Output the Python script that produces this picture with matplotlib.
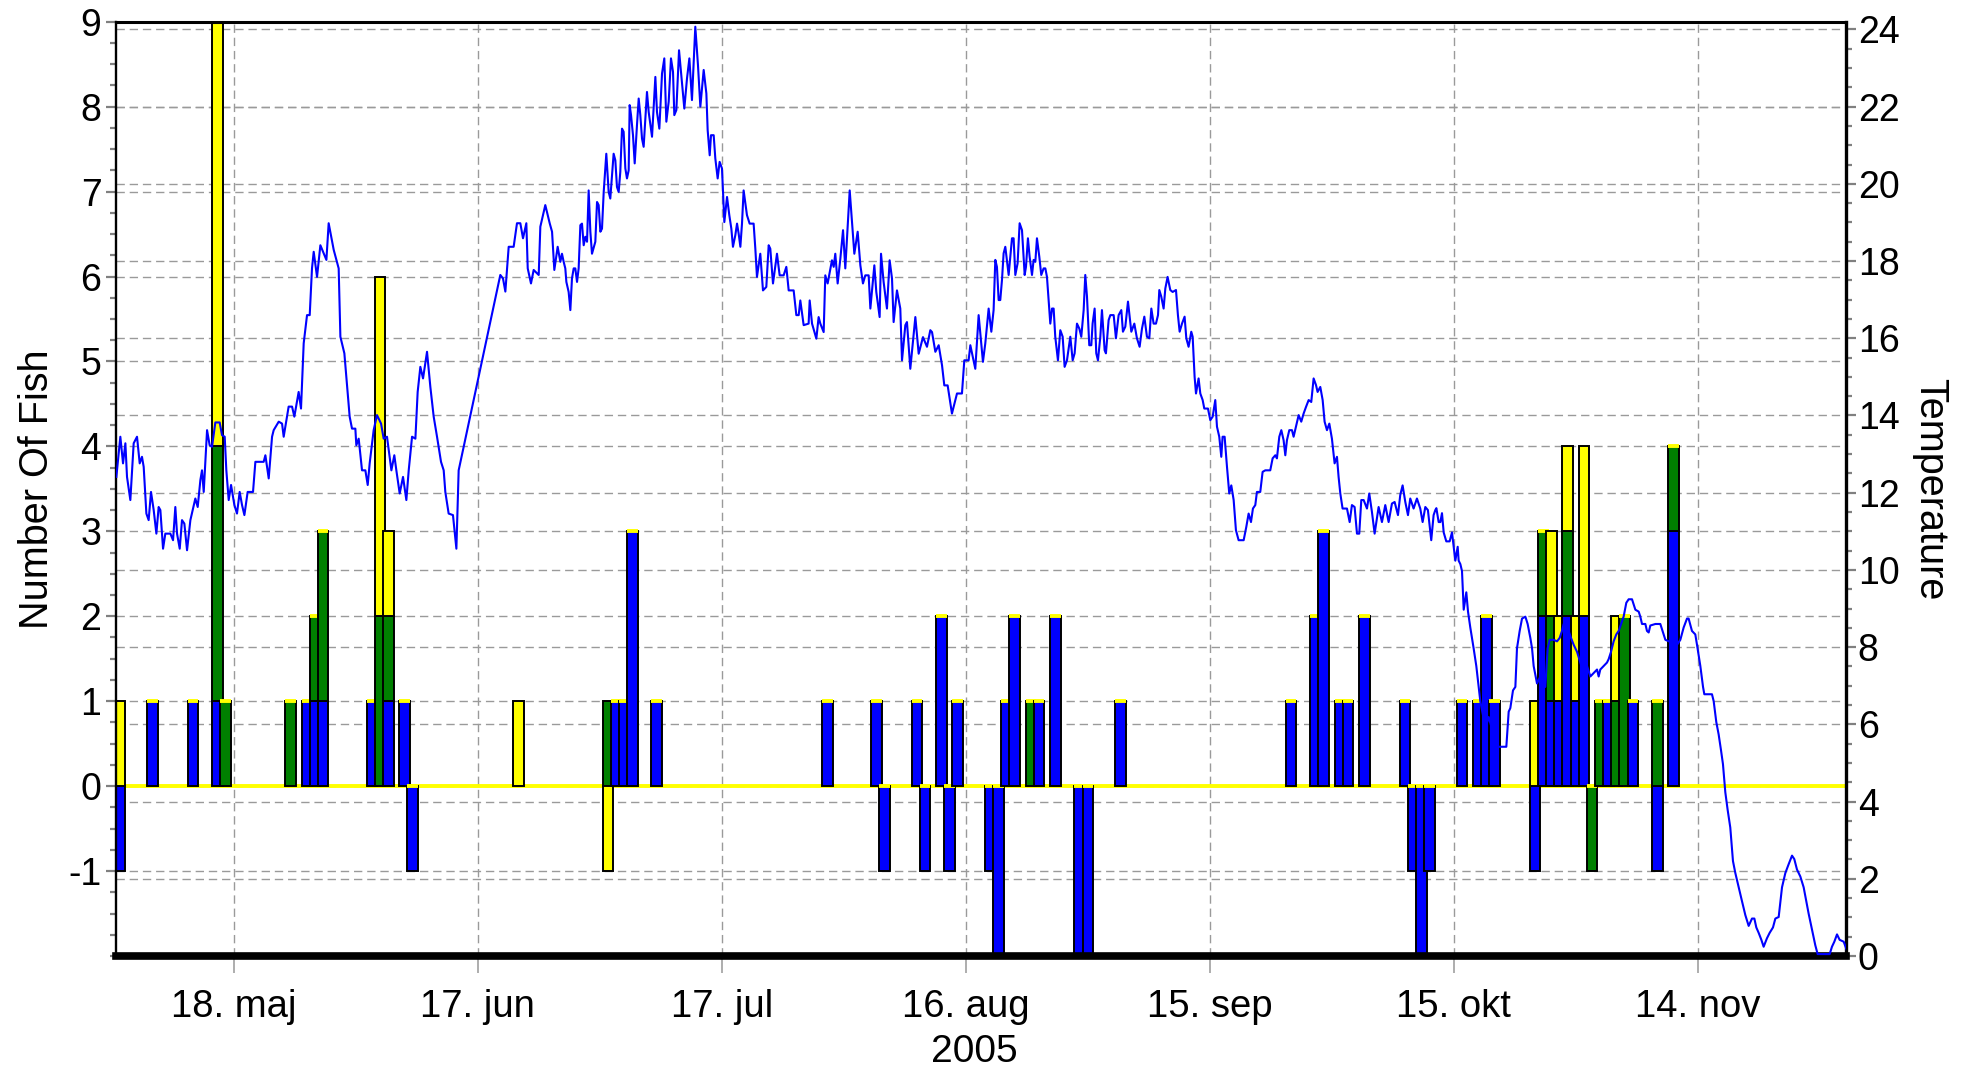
import datetime as dt
import matplotlib
matplotlib.use("Agg")
import matplotlib.pyplot as plt
import matplotlib.dates as mdates
from matplotlib.ticker import MultipleLocator

plt.rcParams['font.family'] = ['Liberation Sans', 'DejaVu Sans']
plt.rcParams['axes.unicode_minus'] = False

# all day offsets below count from 18 May 2005
start = dt.datetime(2005, 5, 18)

# fish per day, split by colour; a negative count is drawn below the zero line
bar_day = [-14, -10, -5, -2, -1, 7, 9, 10, 11, 17, 18, 19, 21, 22, 35,
           46, 47, 48, 49, 52, 73, 79, 80, 84, 85, 87, 88, 89,
           93, 94, 95, 96, 98, 99, 101, 104, 105, 109,
           130, 133, 134, 136, 137, 139, 144, 145, 146, 147,
           151, 153, 154, 155, 160, 161, 162, 163, 164, 165, 166,
           167, 168, 169, 170, 171, 172, 175, 177]
blue = [-1, 1, 1, 1, 0, 0, 1, 1, 1, 1, 0, 1, 1, -1, 0,
        0, 1, 1, 3, 1, 1, 1, -1, 1, -1, 2, -1, 1,
        -1, -2, 1, 2, 0, 1, 2, -2, -2, 1,
        1, 2, 3, 1, 1, 2, 1, -1, -2, -1,
        1, 1, 2, 1, -1, 2, 1, 1, 2, 1, 2,
        0, 0, 1, 0, 0, 1, -1, 3]
green = [0, 0, 0, 3, 1, 1, 0, 1, 2, 0, 2, 1, 0, 0, 0,
         1, 0, 0, 0, 0, 0, 0, 0, 0, 0, 0, 0, 0,
         0, 0, 0, 0, 1, 0, 0, 0, 0, 0,
         0, 0, 0, 0, 0, 0, 0, 0, 0, 0,
         0, 0, 0, 0, 0, 1, 1, 0, 1, 0, 0,
         -1, 1, 0, 1, 2, 0, 1, 1]
yellow = [1, 0, 0, 5, 0, 0, 0, 0, 0, 0, 4, 1, 0, 0, 1,
          -1, 0, 0, 0, 0, 0, 0, 0, 0, 0, 0, 0, 0,
          0, 0, 0, 0, 0, 0, 0, 0, 0, 0,
          0, 0, 0, 0, 0, 0, 0, 0, 0, 0,
          0, 0, 0, 0, 1, 0, 1, 1, 1, 1, 2,
          0, 0, 0, 1, 0, 0, 0, 0]

# water temperature
temp_day = [
    -14.42, -13.93, -13.60, -13.31, -13.11, -12.70, -12.29, -11.88, -11.55, -11.27,
    -11.06, -10.73, -10.45, -10.16, -9.83, -9.50, -9.22, -9.01, -8.68, -8.40,
    -7.78, -7.45, -7.17, -6.96, -6.63, -6.35, -6.06, -5.73, -5.32, -4.71,
    -4.42, -4.09, -3.89, -3.68, -3.27, -2.95, -2.66, -2.25, -1.72, -1.43,
    -1.10, -0.90, -0.61, -0.32, 0.09, 0.41, 0.74, 1.03, 1.32, 1.72,
    2.38, 2.67, 3.69, 3.90, 4.31, 4.72, 4.92, 5.54, 5.95, 6.15,
    6.76, 7.18, 7.46, 7.99, 8.28, 8.61, 9.02, 9.35, 9.63, 9.84,
    10.25, 10.66, 11.07, 11.40, 11.68, 12.30, 12.91, 13.12, 13.61, 14.02,
    14.26, 14.55, 14.96, 15.08, 15.37, 15.78, 16.19, 16.48, 16.72, 17.21,
    17.62, 18.12, 18.44, 18.85, 19.39, 19.75, 20.00, 20.41, 20.82, 21.23,
    21.52, 21.93, 22.34, 22.62, 22.95, 23.28, 23.77, 24.18, 24.59, 25.00,
    25.49, 25.82, 26.02, 26.43, 26.96, 27.38, 27.66, 32.78, 33.11, 33.40,
    33.81, 34.42, 34.83, 35.24, 35.57, 35.98, 36.15, 36.55, 36.88, 37.50,
    37.70, 38.31, 38.85, 39.14, 39.42, 39.83, 40.16, 40.36, 40.57, 40.77,
    40.90, 41.18, 41.39, 41.59, 41.80, 42.00, 42.21, 42.41, 42.62, 42.82,
    43.03, 43.23, 43.44, 43.64, 43.85, 44.05, 44.46, 44.67, 44.87, 45.08,
    45.28, 45.49, 45.81, 46.10, 46.30, 46.51, 46.71, 46.92, 47.12, 47.33,
    47.53, 47.74, 47.94, 48.15, 48.35, 48.56, 48.68, 48.85, 49.09, 49.30,
    49.58, 49.79, 49.99, 50.20, 50.40, 50.81, 51.02, 51.43, 51.84, 52.04,
    52.33, 52.66, 52.94, 53.19, 53.48, 53.76, 54.01, 54.17, 54.42, 54.75,
    55.11, 55.40, 55.73, 56.02, 56.34, 56.75, 57.08, 57.37, 57.78, 58.11,
    58.27, 58.52, 58.68, 59.01, 59.21, 59.50, 59.74, 60.03, 60.24, 60.32,
    60.65, 60.93, 61.18, 61.38, 61.67, 61.88, 62.08, 62.29, 62.49, 62.69,
    63.10, 63.43, 63.92, 64.13, 64.33, 64.74, 65.07, 65.48, 65.77, 65.97,
    66.30, 66.79, 67.12, 67.61, 67.94, 68.23, 68.84, 69.17, 69.46, 69.66,
    70.07, 70.68, 70.81, 71.10, 71.63, 71.91, 72.12, 72.53, 72.73, 73.02,
    73.55, 73.76, 73.96, 74.25, 74.58, 74.91, 75.19, 75.73, 76.01, 76.30,
    76.71, 77.04, 77.36, 77.65, 78.06, 78.27, 78.76, 79.00, 79.41, 79.58,
    79.90, 80.31, 80.64, 80.93, 81.13, 81.54, 81.95, 82.16, 82.57, 82.77,
    83.18, 83.80, 84.21, 84.74, 85.23, 85.64, 85.85, 86.26, 86.67, 87.08,
    87.36, 87.77, 88.30, 88.92, 89.53, 89.82, 90.35, 90.56, 91.17, 91.58,
    92.11, 92.40, 92.81, 93.14, 93.42, 93.63, 93.83, 94.04, 94.24, 94.45,
    94.65, 94.86, 95.27, 95.68, 95.88, 96.09, 96.37, 96.62, 96.91, 97.24,
    97.40, 97.64, 97.85, 98.14, 98.34, 98.55, 98.75, 99.04, 99.28, 99.57,
    99.78, 99.98, 100.39, 100.60, 100.80, 101.00, 101.33, 101.62, 101.91, 102.15,
    102.44, 102.85, 103.14, 103.38, 103.67, 103.96, 104.20, 104.49, 104.69, 104.90,
    105.18, 105.43, 105.59, 105.84, 106.04, 106.25, 106.54, 106.74, 107.07, 107.23,
    107.56, 107.77, 108.18, 108.46, 108.79, 109.12, 109.32, 109.61, 109.94, 110.35,
    110.72, 111.04, 111.37, 111.66, 111.95, 112.27, 112.56, 112.81, 113.09, 113.38,
    113.63, 113.79, 114.03, 114.32, 114.53, 114.81, 115.14, 115.43, 115.84, 116.08,
    116.29, 116.58, 116.90, 117.11, 117.39, 117.72, 117.89, 118.13, 118.30, 118.62,
    118.83, 119.12, 119.32, 119.77, 120.06, 120.35, 120.67, 120.88, 121.16, 121.41,
    121.57, 121.82, 122.11, 122.39, 122.64, 122.93, 123.21, 123.54, 124.16, 124.48,
    124.77, 125.06, 125.30, 125.59, 125.79, 126.20, 126.49, 126.82, 127.43, 127.72,
    128.05, 128.25, 128.54, 128.79, 129.07, 129.28, 129.48, 129.77, 130.10, 130.30,
    130.59, 130.92, 131.24, 131.53, 131.82, 132.15, 132.47, 132.76, 133.05, 133.25,
    133.58, 133.87, 134.11, 134.40, 134.69, 135.01, 135.34, 135.63, 135.83, 136.04,
    136.32, 136.86, 137.19, 137.47, 137.80, 138.09, 138.37, 138.62, 138.91, 139.32,
    139.60, 139.93, 140.26, 140.75, 141.16, 141.57, 141.98, 142.39, 142.72, 143.13,
    143.41, 143.70, 144.03, 144.36, 144.64, 145.05, 145.46, 145.87, 146.16, 146.49,
    146.81, 147.22, 147.51, 147.72, 147.85, 148.13, 148.34, 148.54, 148.75, 149.07,
    149.48, 149.77, 149.98, 150.18, 150.47, 150.59, 150.80, 151.00, 151.21, 151.53,
    151.74, 152.02, 152.23, 152.43, 152.76, 153.05, 153.25, 153.66, 153.99, 154.28,
    154.69, 155.10, 155.51, 156.45, 156.74, 156.94, 157.27, 157.56, 157.76, 158.09,
    158.38, 158.79, 159.07, 159.40, 159.61, 159.81, 160.22, 160.63, 160.96, 161.24,
    161.53, 161.78, 162.27, 162.68, 163.01, 163.29, 163.50, 163.70, 164.11, 164.40,
    164.73, 165.14, 165.55, 165.96, 166.37, 166.78, 167.19, 167.60, 167.80, 168.00,
    168.41, 168.82, 169.03, 169.32, 169.64, 169.97, 170.26, 170.55, 170.87, 171.20,
    171.49, 171.90, 172.31, 172.72, 172.92, 173.13, 173.54, 173.74, 173.95, 174.15,
    174.77, 175.38, 175.58, 176.00, 177.43, 177.84, 178.25, 178.66, 178.86, 179.27,
    179.68, 179.89, 180.30, 180.63, 180.79, 181.73, 181.94, 182.26, 182.55, 182.84,
    183.08, 183.37, 183.66, 183.98, 184.31, 184.60, 185.01, 185.42, 185.83, 186.24,
    186.65, 186.94, 187.18, 187.47, 187.80, 188.08, 188.49, 188.82, 189.23, 189.52,
    189.93, 190.34, 190.75, 191.16, 191.57, 191.85, 192.18, 192.59, 193.00, 193.33,
    193.61, 194.02, 194.43, 194.72, 196.20, 196.48, 196.77, 197.10, 197.42, 197.92,
    198.33]
temp_c = [
    12.41, 13.45, 12.76, 13.28, 12.41, 11.81, 13.28, 13.45, 12.76, 12.93,
    12.67, 11.46, 11.29, 12.02, 11.55, 10.94, 11.63, 11.55, 10.55, 10.94,
    10.94, 10.77, 11.63, 10.94, 10.55, 11.29, 11.20, 10.51, 11.29, 11.85,
    11.63, 12.33, 12.58, 12.02, 13.62, 13.23, 13.19, 13.82, 13.82, 13.49,
    13.45, 12.58, 11.81, 12.20, 11.68, 11.46, 12.02, 11.68, 11.42, 12.02,
    12.02, 12.80, 12.80, 12.97, 12.37, 13.45, 13.62, 13.84, 13.79, 13.45,
    14.23, 14.23, 13.97, 14.61, 14.18, 15.87, 16.60, 16.60, 17.81, 18.24,
    17.59, 18.41, 18.20, 18.03, 18.98, 18.29, 17.81, 16.04, 15.61, 14.57,
    13.97, 13.66, 13.66, 13.23, 13.40, 12.58, 12.58, 12.20, 12.76, 13.62,
    14.01, 13.79, 13.40, 13.45, 12.58, 12.97, 12.58, 11.98, 12.41, 11.81,
    12.58, 13.45, 13.40, 14.61, 15.26, 14.96, 15.65, 14.74, 13.97, 13.45,
    12.80, 12.58, 12.02, 11.46, 11.42, 10.55, 12.58, 17.64, 17.55, 17.21,
    18.37, 18.37, 18.98, 18.98, 18.59, 18.98, 17.81, 17.42, 17.77, 17.64,
    18.89, 19.45, 18.98, 18.76, 17.77, 18.37, 17.98, 18.19, 17.98, 17.81,
    17.46, 17.20, 16.73, 17.55, 17.81, 17.81, 17.46, 17.81, 18.93, 18.97,
    18.41, 18.63, 18.50, 19.83, 18.76, 18.19, 18.50, 19.53, 19.45, 18.76,
    18.84, 19.79, 20.78, 19.79, 19.62, 20.22, 20.78, 20.61, 19.92, 19.79,
    20.31, 21.43, 21.35, 20.40, 20.14, 20.35, 22.04, 21.78, 21.26, 20.53,
    21.52, 22.21, 21.78, 21.17, 20.96, 22.38, 21.86, 21.22, 22.77, 21.86,
    21.43, 22.86, 23.25, 21.61, 22.13, 23.25, 22.90, 21.78, 21.91, 23.46,
    22.64, 21.95, 22.73, 23.25, 22.17, 24.07, 23.07, 22.00, 22.95, 22.34,
    21.39, 20.74, 21.26, 21.26, 20.66, 20.14, 20.57, 20.40, 19.36, 19.01,
    19.66, 19.19, 18.84, 18.37, 18.67, 18.97, 18.71, 18.37, 18.97, 19.83,
    19.19, 18.97, 18.97, 18.32, 17.59, 18.19, 17.24, 17.33, 18.41, 18.32,
    17.42, 18.19, 17.63, 17.63, 17.85, 17.24, 17.24, 16.60, 16.60, 16.98,
    16.34, 16.38, 16.98, 16.38, 15.99, 16.55, 16.38, 16.16, 17.63, 17.42,
    18.02, 17.85, 18.19, 17.42, 18.06, 18.80, 17.81, 19.83, 19.01, 18.19,
    18.76, 17.89, 17.42, 17.63, 17.63, 16.77, 17.89, 17.20, 16.55, 18.19,
    17.46, 16.77, 18.02, 17.55, 16.42, 17.24, 16.77, 15.43, 16.34, 16.42,
    15.21, 16.55, 15.60, 16.03, 15.78, 16.21, 16.16, 15.65, 15.82, 15.30,
    14.78, 14.78, 14.05, 14.57, 14.57, 15.43, 15.43, 15.82, 15.21, 16.60,
    15.39, 15.87, 16.77, 16.17, 16.73, 18.03, 17.85, 16.99, 16.99, 17.51,
    18.20, 18.37, 17.64, 18.59, 18.59, 17.64, 17.94, 18.98, 18.80, 17.64,
    17.85, 18.59, 18.11, 17.64, 18.03, 17.98, 18.59, 18.11, 17.64, 17.81,
    17.81, 17.59, 16.38, 16.77, 16.77, 16.04, 15.43, 16.21, 16.04, 15.26,
    15.43, 16.04, 15.43, 15.61, 16.38, 16.25, 16.04, 16.73, 17.64, 17.08,
    15.82, 15.82, 16.38, 16.77, 15.61, 15.43, 16.04, 16.73, 15.69, 15.61,
    16.47, 16.60, 16.60, 16.00, 16.60, 16.73, 16.17, 16.30, 16.95, 16.17,
    16.38, 16.00, 15.78, 16.25, 16.56, 16.04, 16.00, 16.77, 16.38, 16.38,
    16.60, 17.25, 17.08, 16.77, 17.29, 17.59, 17.25, 17.20, 17.25, 16.60,
    16.17, 16.38, 16.56, 16.00, 15.78, 16.17, 16.04, 15.00, 14.57, 14.96,
    14.57, 14.40, 14.18, 14.18, 13.88, 13.97, 14.40, 13.71, 13.45, 12.93,
    13.45, 13.45, 12.67, 11.98, 12.19, 11.81, 11.03, 10.77, 10.77, 11.11,
    11.46, 11.24, 11.59, 11.68, 12.02, 12.02, 12.54, 12.58, 12.58, 12.89,
    12.97, 12.89, 13.45, 13.62, 13.36, 12.97, 13.36, 13.62, 13.62, 13.45,
    13.71, 14.01, 13.84, 14.05, 14.22, 14.40, 14.35, 14.96, 14.79, 14.61,
    14.74, 14.40, 13.84, 13.62, 13.79, 13.40, 12.76, 12.93, 12.41, 11.98,
    11.59, 11.59, 11.24, 11.68, 11.63, 10.94, 10.94, 11.81, 11.81, 11.59,
    11.98, 11.50, 10.94, 11.63, 11.24, 11.68, 11.24, 11.72, 11.76, 11.42,
    11.94, 12.19, 11.76, 11.42, 11.85, 11.59, 11.85, 11.59, 11.24, 11.63,
    11.55, 10.77, 11.42, 11.55, 11.60, 11.24, 11.24, 11.47, 10.97, 10.74,
    10.74, 10.97, 10.60, 10.24, 10.60, 10.24, 10.15, 9.97, 8.97, 9.42,
    8.92, 8.51, 8.24, 7.97, 7.51, 6.97, 6.60, 6.15, 5.97, 6.19,
    5.88, 5.42, 5.42, 5.42, 6.33, 6.42, 6.88, 6.97, 7.97, 8.42,
    8.74, 8.79, 8.60, 8.24, 7.97, 7.51, 7.06, 7.24, 7.06, 6.97,
    7.97, 8.19, 8.19, 8.15, 8.24, 8.42, 8.60, 8.24, 8.42, 8.24,
    8.06, 7.88, 7.60, 7.33, 7.51, 7.24, 7.33, 7.42, 7.24, 7.42,
    7.51, 7.60, 7.69, 7.88, 8.15, 8.33, 8.42, 8.60, 8.79, 9.15,
    9.24, 9.24, 8.97, 8.92, 8.79, 8.60, 8.60, 8.42, 8.38, 8.56,
    8.60, 8.60, 8.47, 8.19, 8.06, 8.19, 8.51, 8.74, 8.74, 8.42,
    8.33, 8.06, 7.51, 6.97, 6.78, 6.78, 6.60, 6.06, 5.74, 5.33,
    4.97, 4.24, 3.78, 3.33, 2.46, 2.15, 1.78, 1.42, 1.06, 0.78,
    0.97, 0.97, 0.74, 0.60, 0.42, 0.24, 0.46, 0.60, 0.74, 0.97,
    1.01, 1.78, 2.15, 2.38, 2.60, 2.51, 2.24, 2.06, 1.78, 1.42,
    1.10, 0.69, 0.28, 0.05, 0.05, 0.24, 0.37, 0.56, 0.42, 0.37,
    0.14]

tick_day = [0, 30, 60, 90, 120, 150, 180]
tick_labels = ['18. maj', '17. jun', '17. jul', '16. aug', '15. sep', '15. okt', '14. nov']

x0 = mdates.date2num(start)
bar_w = 1.3
grid_kw = dict(color='#9a9a9a', linewidth=1.0, linestyle=(0, (6, 3.5)))

fig = plt.figure(figsize=(19.8, 10.69), dpi=100)
ax = fig.add_axes([0.0586, 0.1057, 0.8737, 0.8740])
ax2 = ax.twinx()   # temperature scale and its grid, behind the bars
ax3 = ax.twinx()   # temperature curve, on top of the bars
ax2.set_zorder(0)
ax.set_zorder(1)
ax3.set_zorder(2)
ax.patch.set_visible(False)
ax3.patch.set_visible(False)

# zero line
ax.axhline(0, color='yellow', linewidth=2.8, zorder=0.9)

for i, d in enumerate(bar_day):
    x = x0 + d
    pos = 0
    neg = 0
    for vals, col in ((blue, 'blue'), (green, 'green'), (yellow, 'yellow')):
        v = vals[i]
        if v > 0:
            ax.bar(x, v, bar_w, bottom=pos, color=col, edgecolor='black', linewidth=1.4)
            pos += v
        elif v < 0:
            ax.bar(x, v, bar_w, bottom=neg, color=col, edgecolor='black', linewidth=1.4)
            neg += v
    if yellow[i] == 0:
        ax.bar(x, 0, bar_w, bottom=pos, color='yellow', edgecolor='yellow', linewidth=2.8)

ax3.plot([x0 + d for d in temp_day], temp_c, color='blue', linewidth=1.5)

# left axis
ax.set_ylim(-2, 9)
ax.set_yticks(range(-1, 10))
ax.yaxis.set_minor_locator(MultipleLocator(0.25))
ax.set_xlim(x0 - 14.46, x0 + 198.2)
ax.set_xticks([x0 + d for d in tick_day])
ax.set_xticklabels(tick_labels)
ax.set_axisbelow(True)
ax.grid(True, axis='both', which='major', **grid_kw)
ax.tick_params(axis='y', which='major', length=7, width=1.6, color='#808080',
               labelsize=27, pad=3.5)
ax.tick_params(axis='y', which='minor', length=4, width=1.6, color='#808080')
ax.tick_params(axis='x', which='major', length=12, width=1.2, color='#a0a0a0',
               labelsize=27.5, pad=12)
ax.set_ylabel('Number Of Fish', fontsize=28.5)
ax.yaxis.set_label_coords(-0.0345, 0.5)
ax.set_xlabel('2005', fontsize=28)
ax.xaxis.set_label_coords(0.496, -0.083)
ax.xaxis.label.set_va('top')

ax.spines['left'].set_linewidth(1.7)
ax.spines['top'].set_linewidth(2.2)
ax.spines['right'].set_linewidth(2.4)
ax.spines['bottom'].set_linewidth(5.5)

# right axis
ax2.set_ylim(0, 24.2)
ax2.set_yticks(range(0, 25, 2))
ax2.yaxis.set_minor_locator(MultipleLocator(0.5))
ax2.grid(True, axis='y', which='major', **grid_kw)
ax2.tick_params(axis='y', which='major', length=7, width=1.6, color='#808080',
                labelsize=27, pad=1.5)
ax2.tick_params(axis='y', which='minor', length=4, width=1.6, color='#808080')
for s in ax2.spines.values():
    s.set_visible(False)
ax2.set_ylabel('Temperature', fontsize=28.5, rotation=270, va='bottom')
ax2.yaxis.set_label_coords(1.0376, 0.5)

ax3.set_ylim(0, 24.2)
ax3.axis('off')

fig.savefig('out.png', dpi=100, facecolor='white')
